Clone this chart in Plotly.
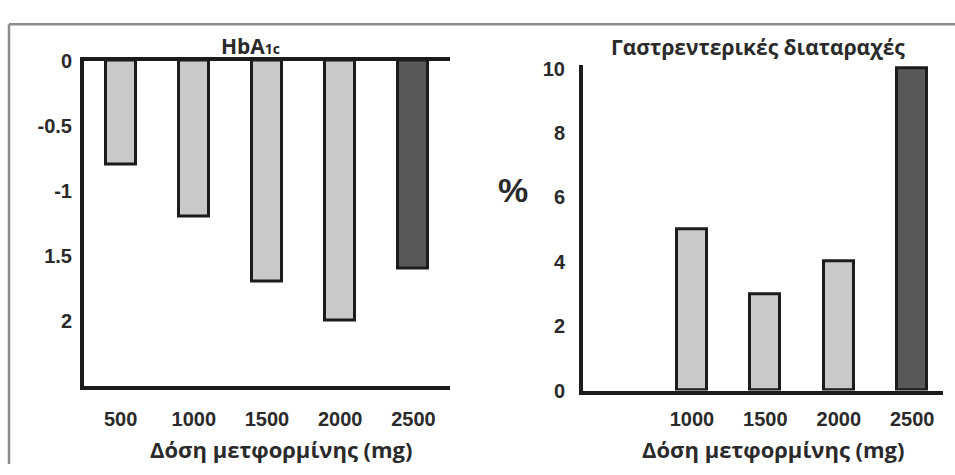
import plotly.graph_objects as go

# Metformin dose groups (mg)
doses = ["500", "1000", "1500", "2000", "2500"]

# Change in HbA1c (%) per dose
hba1c_change = [-0.8, -1.2, -1.7, -2.0, -1.6]
hba1c_ticks = [0, -0.5, -1, -1.5, -2]
hba1c_ticktext = ["0", "-0.5", "-1", "1.5", "2"]

# Gastrointestinal disturbances (%) per dose (none reported at 500 mg)
gi_percent = [None, 5, 3, 4, 10]
gi_ticks = [0, 2, 4, 6, 8, 10]
gi_xticks = ["1000", "1500", "2000", "2500"]

LIGHT = "#c8c9cb"
DARK = "#58585a"
INK = "#1c1c1c"
TEXT = "#2a2a2a"
NUM_FONT = "Liberation Sans"
GREEK_FONT = "Open Sans"

W, H = 955, 475


def px_x(x):
    return x / W


def px_y(y):
    return 1 - y / H


bar_colors = [LIGHT, LIGHT, LIGHT, LIGHT, DARK]

fig = go.Figure()

fig.add_trace(go.Bar(
    x=doses, y=hba1c_change, width=0.41,
    marker=dict(color=bar_colors, line=dict(color=INK, width=3)),
    xaxis="x", yaxis="y", showlegend=False,
))
fig.add_trace(go.Bar(
    x=doses, y=gi_percent, width=0.41,
    marker=dict(color=bar_colors, line=dict(color=INK, width=3)),
    xaxis="x2", yaxis="y2", showlegend=False,
))

tick_font = dict(family=NUM_FONT, size=20, color=TEXT, weight="bold")
axis_line = dict(showline=True, linecolor=INK, linewidth=4,
                 showgrid=False, zeroline=False, ticks="")

fig.update_layout(
    width=W, height=H,
    margin=dict(l=0, r=0, t=0, b=0),
    paper_bgcolor="white", plot_bgcolor="white",
    bargap=0,
    xaxis=dict(domain=[px_x(84), px_x(450)], anchor="y",
               type="category", range=[-0.5, 4.5],
               mirror=True, tickfont=tick_font, ticklabelstandoff=12,
               **axis_line),
    yaxis=dict(domain=[px_y(393), px_y(52)], anchor="x",
               range=[-2.5, 0], tickvals=hba1c_ticks,
               ticktext=hba1c_ticktext, tickfont=tick_font,
               ticklabelstandoff=4, **axis_line),
    xaxis2=dict(domain=[px_x(583), px_x(943)], anchor="y2",
                type="category", range=[-0.484, 4.42],
                tickvals=gi_xticks, ticktext=gi_xticks,
                tickfont=tick_font, ticklabelstandoff=7, **axis_line),
    yaxis2=dict(domain=[px_y(398), px_y(57)], anchor="x2",
                range=[0, 10.1], tickvals=gi_ticks,
                tickfont=tick_font, ticklabelstandoff=10, **axis_line),
)

title_font = dict(family=GREEK_FONT, size=21, color=TEXT, weight="bold")
axis_title_font = dict(family=GREEK_FONT, size=22, color=TEXT, weight="bold")
annotations = [
    dict(text="HbA<span style='font-size:14px'>1c</span>",
         x=px_x(250), y=px_y(37), font=title_font),
    dict(text="Γαστρεντερικές διαταραχές", x=px_x(758), y=px_y(38),
         font=title_font),
    dict(text="Δόση μετφορμίνης (mg)", x=px_x(281), y=px_y(459),
         font=axis_title_font),
    dict(text="Δόση μετφορμίνης (mg)", x=px_x(773), y=px_y(459),
         font=axis_title_font),
    dict(text="%", x=px_x(513), y=px_y(188),
         font=dict(family=NUM_FONT, size=34, color=TEXT, weight="bold")),
]
for a in annotations:
    a.update(xref="paper", yref="paper", showarrow=False,
             xanchor="center", yanchor="middle", borderpad=0)
fig.update_layout(annotations=annotations)

# Thin grey frame along the top and left edges
frame = dict(type="line", xref="paper", yref="paper",
             line=dict(color="#8c8c8c", width=2.5))
fig.update_layout(shapes=[
    dict(frame, x0=px_x(9), y0=px_y(14), x1=1, y1=px_y(14)),
    dict(frame, x0=px_x(9), y0=px_y(14), x1=px_x(9), y1=0),
])

fig.write_html("out.html")
